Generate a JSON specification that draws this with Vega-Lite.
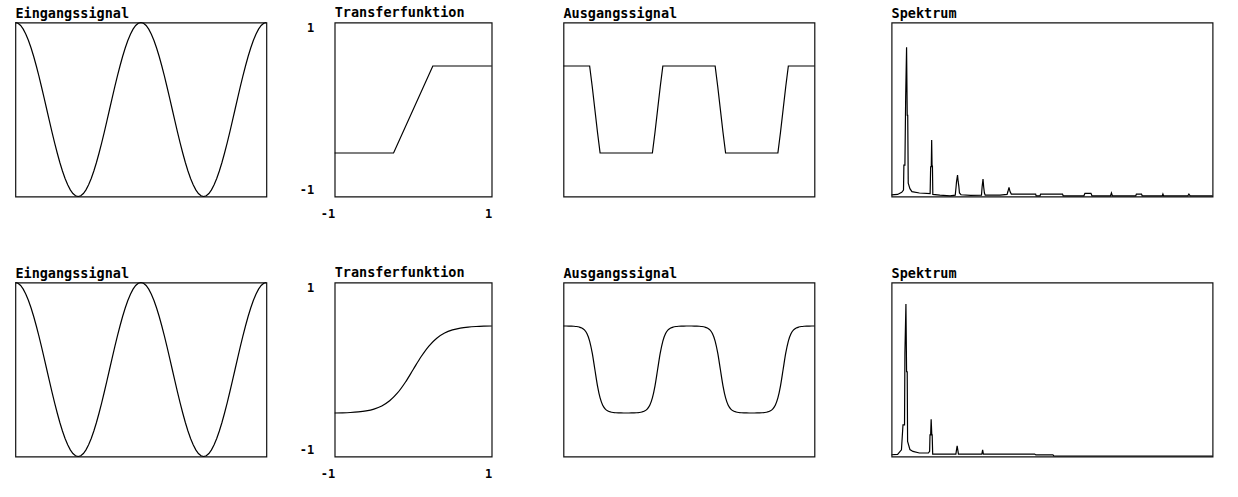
{
  "$schema": "https://vega.github.io/schema/vega-lite/v6.json",
  "background": "white",
  "padding": {"left": 12.4, "top": 4.5, "right": 5, "bottom": 5},
  "config": {
    "view": {"stroke": "#111111", "strokeWidth": 1.2},
    "title": {"anchor": "start", "frame": "group", "font": "DejaVu Sans Mono", "fontSize": 13.5, "fontWeight": "bold", "color": "black", "offset": 2, "baseline": "alphabetic"},
    "axis": {"domain": false, "ticks": false, "tickSize": 0, "grid": false, "labelFont": "DejaVu Sans Mono", "labelFontWeight": "bold", "labelFontSize": 12, "labelColor": "black", "labelOverlap": false}
  },
  "datasets": {
    "sig": [
      {"deg": 0, "input": 1, "hard": 0.5, "soft": 0.5},
      {"deg": 7.5, "input": 0.9914, "hard": 0.5, "soft": 0.4999},
      {"deg": 15, "input": 0.9659, "hard": 0.5, "soft": 0.4994},
      {"deg": 22.5, "input": 0.9239, "hard": 0.5, "soft": 0.4986},
      {"deg": 30, "input": 0.866, "hard": 0.5, "soft": 0.497},
      {"deg": 37.5, "input": 0.7934, "hard": 0.5, "soft": 0.494},
      {"deg": 45, "input": 0.7071, "hard": 0.5, "soft": 0.4882},
      {"deg": 52.5, "input": 0.6088, "hard": 0.5, "soft": 0.4771},
      {"deg": 60, "input": 0.5, "hard": 0.5, "soft": 0.4548},
      {"deg": 67.5, "input": 0.3827, "hard": 0.5, "soft": 0.4106},
      {"deg": 75, "input": 0.2588, "hard": 0.5, "soft": 0.327},
      {"deg": 82.5, "input": 0.1305, "hard": 0.2611, "soft": 0.1873},
      {"deg": 90, "input": 0, "hard": 0, "soft": 0},
      {"deg": 97.5, "input": -0.1305, "hard": -0.2611, "soft": -0.1873},
      {"deg": 105, "input": -0.2588, "hard": -0.5, "soft": -0.327},
      {"deg": 112.5, "input": -0.3827, "hard": -0.5, "soft": -0.4106},
      {"deg": 120, "input": -0.5, "hard": -0.5, "soft": -0.4548},
      {"deg": 127.5, "input": -0.6088, "hard": -0.5, "soft": -0.4771},
      {"deg": 135, "input": -0.7071, "hard": -0.5, "soft": -0.4882},
      {"deg": 142.5, "input": -0.7934, "hard": -0.5, "soft": -0.494},
      {"deg": 150, "input": -0.866, "hard": -0.5, "soft": -0.497},
      {"deg": 157.5, "input": -0.9239, "hard": -0.5, "soft": -0.4986},
      {"deg": 165, "input": -0.9659, "hard": -0.5, "soft": -0.4994},
      {"deg": 172.5, "input": -0.9914, "hard": -0.5, "soft": -0.4999},
      {"deg": 180, "input": -1, "hard": -0.5, "soft": -0.5},
      {"deg": 187.5, "input": -0.9914, "hard": -0.5, "soft": -0.4999},
      {"deg": 195, "input": -0.9659, "hard": -0.5, "soft": -0.4994},
      {"deg": 202.5, "input": -0.9239, "hard": -0.5, "soft": -0.4986},
      {"deg": 210, "input": -0.866, "hard": -0.5, "soft": -0.497},
      {"deg": 217.5, "input": -0.7934, "hard": -0.5, "soft": -0.494},
      {"deg": 225, "input": -0.7071, "hard": -0.5, "soft": -0.4882},
      {"deg": 232.5, "input": -0.6088, "hard": -0.5, "soft": -0.4771},
      {"deg": 240, "input": -0.5, "hard": -0.5, "soft": -0.4548},
      {"deg": 247.5, "input": -0.3827, "hard": -0.5, "soft": -0.4106},
      {"deg": 255, "input": -0.2588, "hard": -0.5, "soft": -0.327},
      {"deg": 262.5, "input": -0.1305, "hard": -0.2611, "soft": -0.1873},
      {"deg": 270, "input": 0, "hard": 0, "soft": 0},
      {"deg": 277.5, "input": 0.1305, "hard": 0.2611, "soft": 0.1873},
      {"deg": 285, "input": 0.2588, "hard": 0.5, "soft": 0.327},
      {"deg": 292.5, "input": 0.3827, "hard": 0.5, "soft": 0.4106},
      {"deg": 300, "input": 0.5, "hard": 0.5, "soft": 0.4548},
      {"deg": 307.5, "input": 0.6088, "hard": 0.5, "soft": 0.4771},
      {"deg": 315, "input": 0.7071, "hard": 0.5, "soft": 0.4882},
      {"deg": 322.5, "input": 0.7934, "hard": 0.5, "soft": 0.494},
      {"deg": 330, "input": 0.866, "hard": 0.5, "soft": 0.497},
      {"deg": 337.5, "input": 0.9239, "hard": 0.5, "soft": 0.4986},
      {"deg": 345, "input": 0.9659, "hard": 0.5, "soft": 0.4994},
      {"deg": 352.5, "input": 0.9914, "hard": 0.5, "soft": 0.4999},
      {"deg": 360, "input": 1, "hard": 0.5, "soft": 0.5},
      {"deg": 367.5, "input": 0.9914, "hard": 0.5, "soft": 0.4999},
      {"deg": 375, "input": 0.9659, "hard": 0.5, "soft": 0.4994},
      {"deg": 382.5, "input": 0.9239, "hard": 0.5, "soft": 0.4986},
      {"deg": 390, "input": 0.866, "hard": 0.5, "soft": 0.497},
      {"deg": 397.5, "input": 0.7934, "hard": 0.5, "soft": 0.494},
      {"deg": 405, "input": 0.7071, "hard": 0.5, "soft": 0.4882},
      {"deg": 412.5, "input": 0.6088, "hard": 0.5, "soft": 0.4771},
      {"deg": 420, "input": 0.5, "hard": 0.5, "soft": 0.4548},
      {"deg": 427.5, "input": 0.3827, "hard": 0.5, "soft": 0.4106},
      {"deg": 435, "input": 0.2588, "hard": 0.5, "soft": 0.327},
      {"deg": 442.5, "input": 0.1305, "hard": 0.2611, "soft": 0.1873},
      {"deg": 450, "input": 0, "hard": 0, "soft": 0},
      {"deg": 457.5, "input": -0.1305, "hard": -0.2611, "soft": -0.1873},
      {"deg": 465, "input": -0.2588, "hard": -0.5, "soft": -0.327},
      {"deg": 472.5, "input": -0.3827, "hard": -0.5, "soft": -0.4106},
      {"deg": 480, "input": -0.5, "hard": -0.5, "soft": -0.4548},
      {"deg": 487.5, "input": -0.6088, "hard": -0.5, "soft": -0.4771},
      {"deg": 495, "input": -0.7071, "hard": -0.5, "soft": -0.4882},
      {"deg": 502.5, "input": -0.7934, "hard": -0.5, "soft": -0.494},
      {"deg": 510, "input": -0.866, "hard": -0.5, "soft": -0.497},
      {"deg": 517.5, "input": -0.9239, "hard": -0.5, "soft": -0.4986},
      {"deg": 525, "input": -0.9659, "hard": -0.5, "soft": -0.4994},
      {"deg": 532.5, "input": -0.9914, "hard": -0.5, "soft": -0.4999},
      {"deg": 540, "input": -1, "hard": -0.5, "soft": -0.5},
      {"deg": 547.5, "input": -0.9914, "hard": -0.5, "soft": -0.4999},
      {"deg": 555, "input": -0.9659, "hard": -0.5, "soft": -0.4994},
      {"deg": 562.5, "input": -0.9239, "hard": -0.5, "soft": -0.4986},
      {"deg": 570, "input": -0.866, "hard": -0.5, "soft": -0.497},
      {"deg": 577.5, "input": -0.7934, "hard": -0.5, "soft": -0.494},
      {"deg": 585, "input": -0.7071, "hard": -0.5, "soft": -0.4882},
      {"deg": 592.5, "input": -0.6088, "hard": -0.5, "soft": -0.4771},
      {"deg": 600, "input": -0.5, "hard": -0.5, "soft": -0.4548},
      {"deg": 607.5, "input": -0.3827, "hard": -0.5, "soft": -0.4106},
      {"deg": 615, "input": -0.2588, "hard": -0.5, "soft": -0.327},
      {"deg": 622.5, "input": -0.1305, "hard": -0.2611, "soft": -0.1873},
      {"deg": 630, "input": 0, "hard": 0, "soft": 0},
      {"deg": 637.5, "input": 0.1305, "hard": 0.2611, "soft": 0.1873},
      {"deg": 645, "input": 0.2588, "hard": 0.5, "soft": 0.327},
      {"deg": 652.5, "input": 0.3827, "hard": 0.5, "soft": 0.4106},
      {"deg": 660, "input": 0.5, "hard": 0.5, "soft": 0.4548},
      {"deg": 667.5, "input": 0.6088, "hard": 0.5, "soft": 0.4771},
      {"deg": 675, "input": 0.7071, "hard": 0.5, "soft": 0.4882},
      {"deg": 682.5, "input": 0.7934, "hard": 0.5, "soft": 0.494},
      {"deg": 690, "input": 0.866, "hard": 0.5, "soft": 0.497},
      {"deg": 697.5, "input": 0.9239, "hard": 0.5, "soft": 0.4986},
      {"deg": 705, "input": 0.9659, "hard": 0.5, "soft": 0.4994},
      {"deg": 712.5, "input": 0.9914, "hard": 0.5, "soft": 0.4999},
      {"deg": 720, "input": 1, "hard": 0.5, "soft": 0.5}
    ],
    "tf1": [
      {"x": -1, "y": -0.5},
      {"x": -0.25, "y": -0.5},
      {"x": 0.25, "y": 0.5},
      {"x": 1, "y": 0.5}
    ],
    "tf2": [
      {"x": -1, "y": -0.5},
      {"x": -0.9, "y": -0.498},
      {"x": -0.8, "y": -0.4943},
      {"x": -0.7, "y": -0.4876},
      {"x": -0.6, "y": -0.4758},
      {"x": -0.5, "y": -0.4548},
      {"x": -0.4, "y": -0.4189},
      {"x": -0.3, "y": -0.3599},
      {"x": -0.2, "y": -0.2699},
      {"x": -0.1, "y": -0.1464},
      {"x": 0, "y": 0},
      {"x": 0.1, "y": 0.1464},
      {"x": 0.2, "y": 0.2699},
      {"x": 0.3, "y": 0.3599},
      {"x": 0.4, "y": 0.4189},
      {"x": 0.5, "y": 0.4548},
      {"x": 0.6, "y": 0.4758},
      {"x": 0.7, "y": 0.4876},
      {"x": 0.8, "y": 0.4943},
      {"x": 0.9, "y": 0.498},
      {"x": 1, "y": 0.5}
    ],
    "spec1": [
      {"h": -0.17, "a": 0.009}, {"h": 0.3, "a": 0.012}, {"h": 0.62, "a": 0.024}, {"h": 0.76, "a": 0.037},
      {"h": 0.79, "a": 0.18}, {"h": 0.87, "a": 0.18}, {"h": 0.93, "a": 0.572}, {"h": 1.0, "a": 0.858},
      {"h": 1.05, "a": 0.467}, {"h": 1.09, "a": 0.467}, {"h": 1.13, "a": 0.077}, {"h": 1.26, "a": 0.045},
      {"h": 1.42, "a": 0.028}, {"h": 2.0, "a": 0.02}, {"h": 2.84, "a": 0.017}, {"h": 2.88, "a": 0.171},
      {"h": 2.93, "a": 0.171}, {"h": 2.96, "a": 0.324}, {"h": 2.99, "a": 0.175}, {"h": 3.02, "a": 0.175},
      {"h": 3.05, "a": 0.012}, {"h": 3.6, "a": 0.008}, {"h": 4.4, "a": 0.004}, {"h": 4.8, "a": 0.008},
      {"h": 4.86, "a": 0.05}, {"h": 4.9, "a": 0.085}, {"h": 4.98, "a": 0.123}, {"h": 5.03, "a": 0.085},
      {"h": 5.08, "a": 0.06}, {"h": 5.13, "a": 0.02}, {"h": 5.25, "a": 0.01}, {"h": 6.0, "a": 0.006},
      {"h": 6.85, "a": 0.008}, {"h": 6.9, "a": 0.056}, {"h": 6.97, "a": 0.1}, {"h": 7.02, "a": 0.056},
      {"h": 7.08, "a": 0.02}, {"h": 7.14, "a": 0.008}, {"h": 8.3, "a": 0.008}, {"h": 8.85, "a": 0.012},
      {"h": 8.92, "a": 0.03}, {"h": 9.0, "a": 0.053}, {"h": 9.08, "a": 0.028}, {"h": 9.18, "a": 0.014},
      {"h": 11.08, "a": 0.014}, {"h": 11.12, "a": 0.004}, {"h": 11.42, "a": 0.004}, {"h": 11.47, "a": 0.014},
      {"h": 13.18, "a": 0.014}, {"h": 13.23, "a": 0.004}, {"h": 14.85, "a": 0.004}, {"h": 14.93, "a": 0.018},
      {"h": 15.4, "a": 0.018}, {"h": 15.48, "a": 0.004}, {"h": 16.93, "a": 0.004}, {"h": 17.0, "a": 0.02},
      {"h": 17.07, "a": 0.004}, {"h": 18.9, "a": 0.004}, {"h": 18.95, "a": 0.014}, {"h": 19.35, "a": 0.014},
      {"h": 19.4, "a": 0.004}, {"h": 20.97, "a": 0.004}, {"h": 21.02, "a": 0.014}, {"h": 21.07, "a": 0.004},
      {"h": 22.97, "a": 0.004}, {"h": 23.05, "a": 0.014}, {"h": 23.15, "a": 0.004}, {"h": 24.9, "a": 0.004}
    ],
    "spec2": [
      {"h": -0.17, "a": 0.01}, {"h": 0.3, "a": 0.012}, {"h": 0.6, "a": 0.038}, {"h": 0.72, "a": 0.182},
      {"h": 0.84, "a": 0.182}, {"h": 0.87, "a": 0.593}, {"h": 0.95, "a": 0.876}, {"h": 1.0, "a": 0.487},
      {"h": 1.05, "a": 0.487}, {"h": 1.08, "a": 0.086}, {"h": 1.26, "a": 0.04}, {"h": 1.5, "a": 0.029},
      {"h": 2.0, "a": 0.02}, {"h": 2.7, "a": 0.02}, {"h": 2.8, "a": 0.03}, {"h": 2.83, "a": 0.124},
      {"h": 2.88, "a": 0.124}, {"h": 2.92, "a": 0.214}, {"h": 2.97, "a": 0.124}, {"h": 3.0, "a": 0.124},
      {"h": 3.04, "a": 0.014}, {"h": 4.85, "a": 0.014}, {"h": 4.9, "a": 0.038}, {"h": 4.95, "a": 0.061},
      {"h": 5.0, "a": 0.038}, {"h": 5.05, "a": 0.014}, {"h": 6.88, "a": 0.014}, {"h": 6.94, "a": 0.038},
      {"h": 7.0, "a": 0.014}, {"h": 11.0, "a": 0.014}, {"h": 11.1, "a": 0.009}, {"h": 12.43, "a": 0.009},
      {"h": 12.5, "a": 0.003}, {"h": 24.9, "a": 0.003}
    ]
  },
  "vconcat": [
    {
      "hconcat": [
        {
          "hconcat": [
            {
              "hconcat": [
                {
                  "title": {"text": "Eingangssignal", "dy": 2.4}, "width": 251, "height": 174,
                  "data": {"name": "sig"},
                  "mark": {"type": "line", "color": "black", "strokeWidth": 1.2},
                  "encoding": {
                    "x": {"field": "deg", "type": "quantitative", "scale": {"domain": [0, 720], "nice": false, "zero": false}, "axis": null},
                    "y": {"field": "input", "type": "quantitative", "scale": {"domain": [-1, 1], "nice": false, "zero": false}, "axis": null}
                  }
                },
                {
                  "title": "Transferfunktion", "width": 157, "height": 174,
                  "data": {"name": "tf1"},
                  "mark": {"type": "line", "color": "black", "strokeWidth": 1.2},
                  "encoding": {
                    "x": {"field": "x", "type": "quantitative", "scale": {"domain": [-1, 1], "nice": false, "zero": false},
                      "axis": {"title": null, "values": [-1, 1], "labelAlign": "right", "labelBaseline": "top", "labelPadding": 12, "labelFlush": false, "labelExpr": "datum.value < 0 ? '-1' : '1'"}},
                    "y": {"field": "y", "type": "quantitative", "scale": {"domain": [-1, 1], "nice": false, "zero": false},
                      "axis": {"title": null, "values": [-1, 1], "labelAlign": "right", "labelPadding": 21, "labelFlush": true, "labelExpr": "datum.value < 0 ? '-1' : '1'"}}
                  }
                }
              ],
              "bounds": "flush", "spacing": 68.3
            },
            {
              "title": "Ausgangssignal", "width": 251, "height": 174,
              "data": {"name": "sig"},
              "mark": {"type": "line", "color": "black", "strokeWidth": 1.2},
              "encoding": {
                "x": {"field": "deg", "type": "quantitative", "scale": {"domain": [0, 720], "nice": false, "zero": false}, "axis": null},
                "y": {"field": "hard", "type": "quantitative", "scale": {"domain": [-1, 1], "nice": false, "zero": false}, "axis": null}
              }
            }
          ],
          "bounds": "full", "spacing": 65.1
        },
        {
          "title": "Spektrum", "width": 321, "height": 174,
          "data": {"name": "spec1"},
          "mark": {"type": "line", "color": "black", "strokeWidth": 1.2},
          "encoding": {
            "x": {"field": "h", "type": "quantitative", "scale": {"domain": [-0.17, 24.9], "nice": false, "zero": false}, "axis": null},
            "y": {"field": "a", "type": "quantitative", "scale": {"domain": [0, 1], "nice": false, "zero": false}, "axis": null}
          }
        }
      ],
      "bounds": "full", "spacing": 70.2
    },
    {
      "hconcat": [
        {
          "hconcat": [
            {
              "hconcat": [
                {
                  "title": {"text": "Eingangssignal", "dy": 2.4}, "width": 251, "height": 174,
                  "data": {"name": "sig"},
                  "mark": {"type": "line", "color": "black", "strokeWidth": 1.2},
                  "encoding": {
                    "x": {"field": "deg", "type": "quantitative", "scale": {"domain": [0, 720], "nice": false, "zero": false}, "axis": null},
                    "y": {"field": "input", "type": "quantitative", "scale": {"domain": [-1, 1], "nice": false, "zero": false}, "axis": null}
                  }
                },
                {
                  "title": "Transferfunktion", "width": 157, "height": 174,
                  "data": {"name": "tf2"},
                  "mark": {"type": "line", "color": "black", "strokeWidth": 1.2, "interpolate": "monotone"},
                  "encoding": {
                    "x": {"field": "x", "type": "quantitative", "scale": {"domain": [-1, 1], "nice": false, "zero": false},
                      "axis": {"title": null, "values": [-1, 1], "labelAlign": "right", "labelBaseline": "top", "labelPadding": 12, "labelFlush": false, "labelExpr": "datum.value < 0 ? '-1' : '1'"}},
                    "y": {"field": "y", "type": "quantitative", "scale": {"domain": [-1, 1], "nice": false, "zero": false},
                      "axis": {"title": null, "values": [-1, 1], "labelAlign": "right", "labelPadding": 21, "labelFlush": true, "labelExpr": "datum.value < 0 ? '-1' : '1'"}}
                  }
                }
              ],
              "bounds": "flush", "spacing": 68.3
            },
            {
              "title": "Ausgangssignal", "width": 251, "height": 174,
              "data": {"name": "sig"},
              "mark": {"type": "line", "color": "black", "strokeWidth": 1.2, "interpolate": "monotone"},
              "encoding": {
                "x": {"field": "deg", "type": "quantitative", "scale": {"domain": [0, 720], "nice": false, "zero": false}, "axis": null},
                "y": {"field": "soft", "type": "quantitative", "scale": {"domain": [-1, 1], "nice": false, "zero": false}, "axis": null}
              }
            }
          ],
          "bounds": "full", "spacing": 65.1
        },
        {
          "title": "Spektrum", "width": 321, "height": 174,
          "data": {"name": "spec2"},
          "mark": {"type": "line", "color": "black", "strokeWidth": 1.2},
          "encoding": {
            "x": {"field": "h", "type": "quantitative", "scale": {"domain": [-0.17, 24.9], "nice": false, "zero": false}, "axis": null},
            "y": {"field": "a", "type": "quantitative", "scale": {"domain": [0, 1], "nice": false, "zero": false}, "axis": null}
          }
        }
      ],
      "bounds": "full", "spacing": 70.2
    }
  ],
  "bounds": "full",
  "spacing": 44
}
